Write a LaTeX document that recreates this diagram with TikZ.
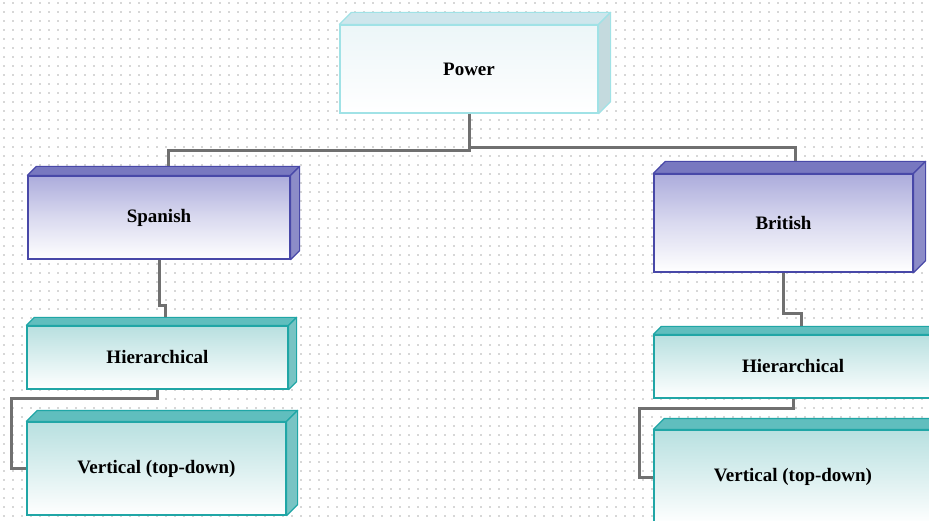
\documentclass[tikz,border=0pt]{standalone}
\usepackage{fontspec}
\setmainfont{Liberation Serif}
\usetikzlibrary{calc}
\definecolor{dotc}{RGB}{175,175,175}
\definecolor{wire}{RGB}{112,112,112}
% blue (upper level) boxes
\definecolor{bline}{RGB}{72,72,168}
\definecolor{btop}{RGB}{120,120,192}
\definecolor{bside}{RGB}{140,140,200}
\definecolor{bfront}{RGB}{172,172,220}
% teal (lower level) boxes
\definecolor{tline}{RGB}{32,166,166}
\definecolor{ttop}{RGB}{96,190,190}
\definecolor{tside}{RGB}{120,196,196}
\definecolor{tfront}{RGB}{184,224,224}
% root box
\definecolor{pline}{RGB}{160,226,230}
\definecolor{ptop}{RGB}{206,230,236}
\definecolor{pside}{RGB}{196,218,222}
\definecolor{pfront}{RGB}{236,246,248}
\tikzset{
  face/.style={font=\fontsize{19}{22}\selectfont\bfseries, inner sep=0pt, line width=1.2pt},
  bluebox/.style={face, draw=bline, top color=bfront, bottom color=white, middle color=bfront!45},
  tealbox/.style={face, draw=tline, top color=tfront, bottom color=white, middle color=tfront!50},
  rootbox/.style={face, draw=pline, top color=pfront, bottom color=white},
  wirestyle/.style={draw=wire, line width=3pt, line join=miter}
}
% top and side faces of a box: node, depth, top fill, side fill, line colour
\newcommand\boxfaces[5]{%
  \filldraw[fill=#3, draw=#5, line width=1.2pt, line join=round]
    (#1.north west) -- ++(#2,-#2) -- ([shift={(#2,-#2)}]#1.north east)
    -- (#1.north east) -- cycle;
  \filldraw[fill=#4, draw=#5, line width=1.2pt, line join=round]
    (#1.north east) -- ++(#2,-#2) -- ([shift={(#2,-#2)}]#1.south east)
    -- (#1.south east) -- cycle;
}
\begin{document}
\begin{tikzpicture}[x=1pt,y=-1pt]
\useasboundingbox (0,0) rectangle (929,521);
\fill[white] (0,0) rectangle (929,521);
% dotted background grid
\foreach \i in {0,...,103} {
  \foreach \j in {0,...,58} {
    \fill[dotc] (4+9*\i,3+9*\j) circle (0.8pt);
  }
}

% boxes
\node[rootbox, minimum width=258pt, minimum height=88pt] (pw) at (469,69) {Power};
\node[bluebox, minimum width=262pt, minimum height=83pt] (sp) at (159,217.5) {Spanish};
\node[bluebox, minimum width=259pt, minimum height=98pt] (br) at (783.5,223) {British};
\node[tealbox, minimum width=261pt, minimum height=63pt] (hl) at (157.5,357.5) {Hierarchical};
\node[tealbox, minimum width=259pt, minimum height=93pt] (vl) at (156.5,468.5) {Vertical (top-down)};
\node[tealbox, minimum width=278pt, minimum height=63pt] (hr) at (793,366.5) {Hierarchical};
\node[tealbox, minimum width=278pt, minimum height=94pt] (vr) at (793,477) {Vertical (top-down)};

\boxfaces{pw}{12}{ptop}{pside}{pline}
\boxfaces{sp}{9}{btop}{bside}{bline}
\boxfaces{br}{12}{btop}{bside}{bline}
\boxfaces{hl}{8}{ttop}{tside}{tline}
\boxfaces{vl}{11}{ttop}{tside}{tline}
\boxfaces{hr}{8}{ttop}{tside}{tline}
\boxfaces{vr}{11}{ttop}{tside}{tline}

% connectors
\draw[wirestyle] (pw.south) -- ++(0,37) -| ([shift={(9,-9)}]sp.north);
\draw[wirestyle] (pw.south) ++(0,34) -| ([shift={(12,-12)}]br.north);
\draw[wirestyle] (sp.south) -- ++(0,46) -| ([shift={(8,-8)}]hl.north);
\draw[wirestyle] (hl.south) -- ++(0,9) -| ([xshift=-15pt]vl.west) -- (vl.west);
\draw[wirestyle] (br.south) -- ++(0,41) -| ([shift={(8,-8)}]hr.north);
\draw[wirestyle] (hr.south) -- ++(0,10) -| ([xshift=-14pt]vr.west) -- (vr.west);
\end{tikzpicture}
\end{document}
